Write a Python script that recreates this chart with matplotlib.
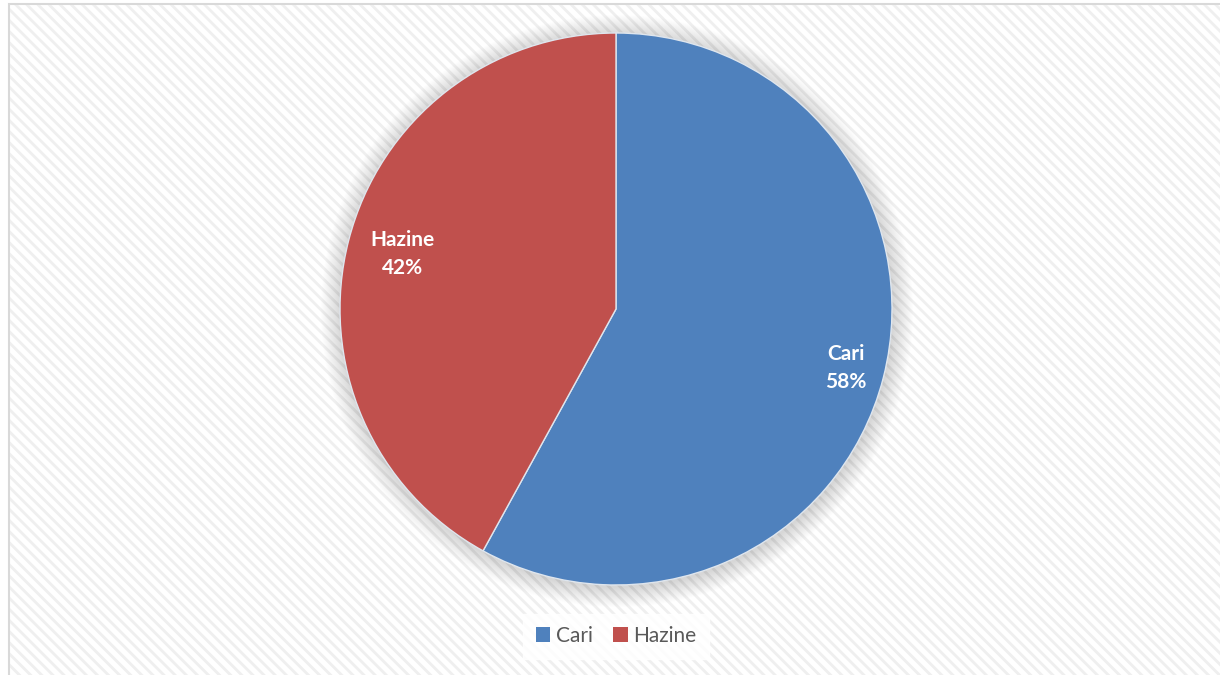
import numpy as np
import matplotlib.pyplot as plt
from matplotlib.patches import Rectangle, Circle, Patch

# data
categories = ["Cari", "Hazine"]
shares = [58, 42]
colors = ["#4F81BD", "#C0504D"]

plt.rcParams["font.family"] = ["Lato", "DejaVu Sans"]
plt.rcParams["hatch.color"] = "#ededed"
plt.rcParams["hatch.linewidth"] = 2.0

W, H = 1220, 675
fig = plt.figure(figsize=(W / 100, H / 100), dpi=100)
fig.patch.set_facecolor("white")

# hatched chart area background + border
bg = Rectangle((9 / W, -0.05), 1.1, (H - 4) / H + 0.05, transform=fig.transFigure,
               facecolor="white", edgecolor="#d9d9d9", linewidth=1.5, zorder=-2)
fig.patches.append(bg)
hatch = Rectangle((10 / W, -0.05), 1.1, (H - 5) / H + 0.05, transform=fig.transFigure,
                  facecolor="none", edgecolor="#efefef", hatch="\\\\\\", linewidth=0, zorder=-1)
fig.patches.append(hatch)

ax = fig.add_axes([0, 0, 1, 1])
ax.axis("off")

cx, cy, r = 616, H - 309, 276

# soft shadow around the pie
for k in range(20, 0, -1):
    ax.add_patch(Circle((cx + 1, cy - 2), r + k, facecolor="#000000", alpha=0.009,
                        edgecolor="none", zorder=1))


def fmt(pct):
    idx = 0 if abs(pct - shares[0]) < abs(pct - shares[1]) else 1
    return f"{categories[idx]}\n{pct:.0f}%"


wedges, texts, autotexts = ax.pie(
    shares, colors=colors, startangle=90, counterclock=False,
    center=(cx, cy), radius=r, autopct=fmt, pctdistance=0.85,
    wedgeprops=dict(edgecolor="#dfe6ee", linewidth=1.0),
    textprops=dict(color="white", fontsize=15, fontweight="bold"),
)
# label distances like the Excel layout
label_dist = [0.86, 0.80]
for w, t, d in zip(wedges, autotexts, label_dist):
    w.set_zorder(2)
    ang = np.deg2rad((w.theta1 + w.theta2) / 2)
    t.set_position((cx + d * r * np.cos(ang), cy + d * r * np.sin(ang)))
    t.set_zorder(3)
    t.set_linespacing(1.5)
    t.set_multialignment("center")

ax.set_xlim(0, W)
ax.set_ylim(0, H)
ax.set_aspect("equal")

handles = [Patch(facecolor=c, edgecolor="none") for c in colors]
leg = fig.legend(handles, categories, loc="center", bbox_to_anchor=(616 / W, (H - 636) / H),
                 ncol=2, frameon=True, fontsize=15, handlelength=0.7, handleheight=0.7,
                 handletextpad=0.25, columnspacing=1.0, borderpad=0.6, fancybox=False)
leg.get_frame().set_facecolor("white")
leg.get_frame().set_edgecolor("white")
leg.get_frame().set_alpha(0.85)
for t in leg.get_texts():
    t.set_color("#595959")

fig.savefig("out.png", dpi=100)
